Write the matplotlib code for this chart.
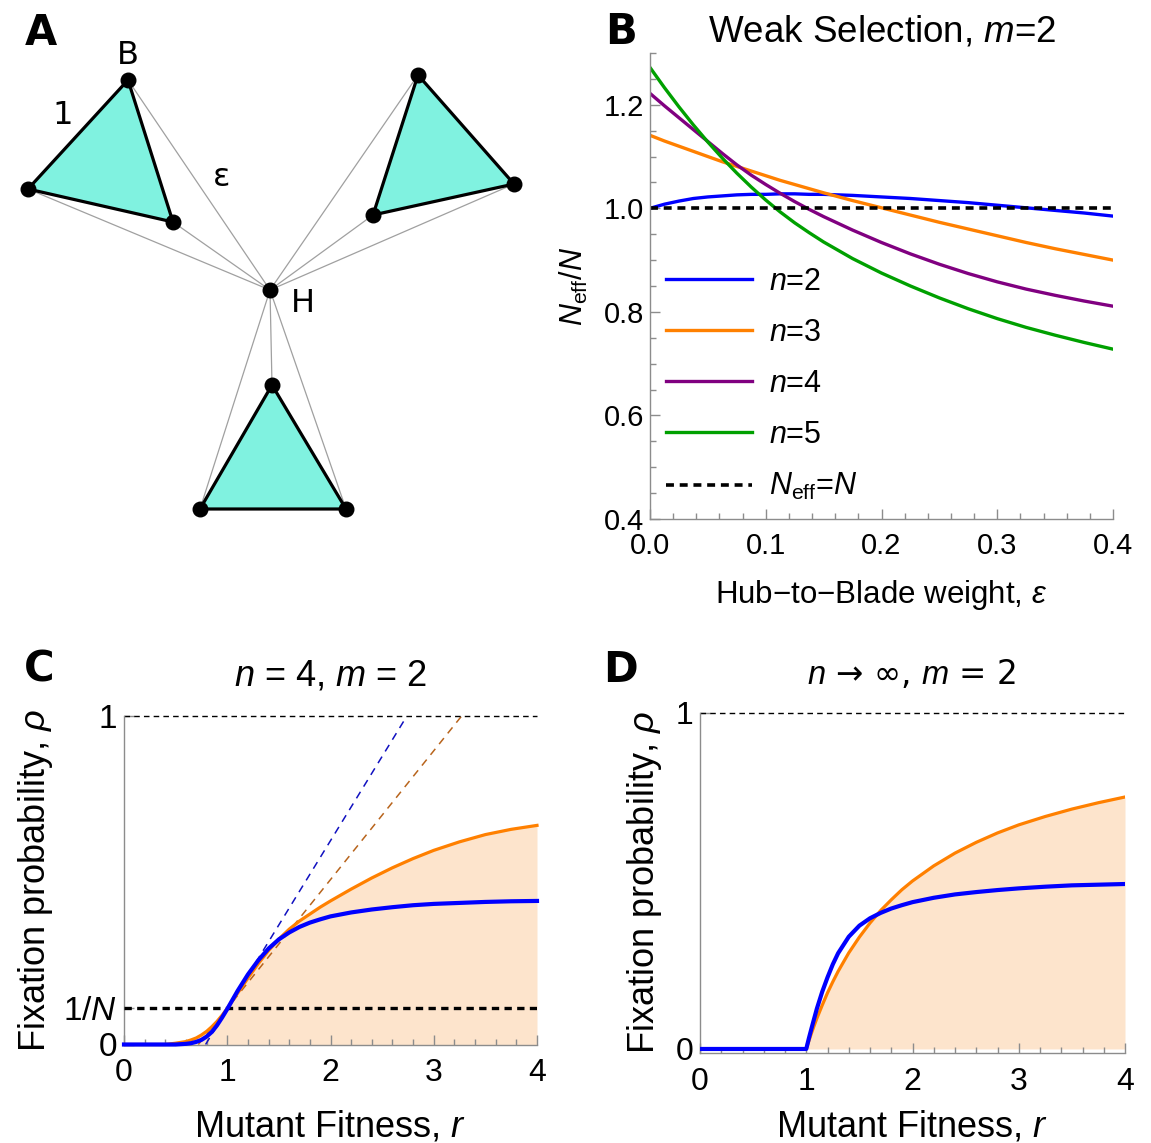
import matplotlib
matplotlib.use('Agg')
import matplotlib.pyplot as plt
from matplotlib.patches import Polygon
from matplotlib.ticker import MultipleLocator

plt.rcParams.update({
    'font.family': ['Liberation Sans', 'DejaVu Sans'],
    'mathtext.fontset': 'custom',
    'mathtext.rm': 'Liberation Sans',
    'mathtext.it': 'Liberation Sans:italic',
    'mathtext.bf': 'Liberation Sans:bold',
    'mathtext.fallback': 'stixsans',
})

W, H = 1151, 1143

# ---- panel A: network (node positions in picture pixels) ----
hub = (270, 290)
blades = [
    [(128, 80), (28, 189), (173, 222)],
    [(418, 75), (514, 184), (373, 215)],
    [(272, 385), (200, 509), (346, 509)],
]

# ---- panel B: N_eff/N vs hub-to-blade weight ----
eps = [0, 0.0125, 0.025, 0.0375, 0.05, 0.0625, 0.075, 0.0875, 0.1, 0.1125,
       0.125, 0.1375, 0.15, 0.175, 0.2, 0.225, 0.25, 0.275, 0.3, 0.325,
       0.35, 0.375, 0.4]
neff_n2 = [1.000, 1.008, 1.014, 1.019, 1.022, 1.024, 1.026, 1.027, 1.027, 1.028,
           1.028, 1.027, 1.027, 1.025, 1.022, 1.019, 1.015, 1.011, 1.006, 1.001,
           0.996, 0.991, 0.985]
neff_n3 = [1.141, 1.130, 1.120, 1.110, 1.100, 1.090, 1.081, 1.072, 1.063, 1.054,
           1.046, 1.038, 1.030, 1.015, 1.001, 0.987, 0.973, 0.960, 0.947, 0.934,
           0.922, 0.911, 0.900]
neff_n4 = [1.222, 1.198, 1.175, 1.152, 1.129, 1.106, 1.084, 1.064, 1.046, 1.029,
           1.013, 0.998, 0.984, 0.958, 0.934, 0.912, 0.892, 0.874, 0.858, 0.844,
           0.832, 0.821, 0.811]
neff_n5 = [1.272, 1.233, 1.196, 1.161, 1.128, 1.097, 1.068, 1.041, 1.016, 0.993,
           0.972, 0.953, 0.935, 0.903, 0.875, 0.850, 0.827, 0.806, 0.787, 0.770,
           0.755, 0.741, 0.728]
b_series = [('$n$=2', neff_n2, '#0000ff'), ('$n$=3', neff_n3, '#ff8000'),
            ('$n$=4', neff_n4, '#800080'), ('$n$=5', neff_n5, '#00a000')]

# ---- panel C: n=4, m=2 ----
r_c = [0, 0.4, 0.5, 0.6, 0.65, 0.7, 0.75, 0.8, 0.85, 0.9, 0.95, 1.0, 1.1, 1.2,
       1.3, 1.4, 1.5, 1.6, 1.7, 1.8, 1.9, 2.0, 2.2, 2.4, 2.6, 2.8, 3.0, 3.25,
       3.5, 3.75, 4.0]
rho_c_orange = [0, 0.000, 0.004, 0.009, 0.014, 0.020, 0.029, 0.040, 0.054, 0.070,
                0.089, 0.110, 0.156, 0.202, 0.246, 0.286, 0.321, 0.351, 0.376, 0.397,
                0.418, 0.437, 0.473, 0.507, 0.538, 0.566, 0.591, 0.617, 0.639, 0.655,
                0.667]
rho_c_blue = [0, 0.000, 0.000, 0.002, 0.004, 0.008, 0.014, 0.024, 0.038, 0.058,
              0.082, 0.108, 0.163, 0.213, 0.256, 0.292, 0.320, 0.341, 0.358, 0.371,
              0.381, 0.390, 0.402, 0.411, 0.418, 0.424, 0.428, 0.431, 0.434, 0.436,
              0.437]
tan_blue_r = [0.79, 2.74]
tan_orange_r = [0.72, 3.27]
tan_rho = [0, 1]
inv_N = 1 / 9

# ---- panel D: n -> inf, m=2 ----
r_d = [0, 1.0, 1.025, 1.05, 1.075, 1.1, 1.15, 1.2, 1.25, 1.3, 1.4, 1.5, 1.6,
       1.7, 1.8, 1.9, 2.0, 2.2, 2.4, 2.6, 2.8, 3.0, 3.25, 3.5, 3.75, 4.0]
rho_d_orange = [0, 0, 0.024, 0.048, 0.070, 0.091, 0.130, 0.167, 0.200, 0.231,
                0.286, 0.333, 0.375, 0.412, 0.444, 0.474, 0.500, 0.545, 0.583,
                0.615, 0.643, 0.667, 0.692, 0.714, 0.733, 0.750]
rho_d_blue = [0, 0, 0.032, 0.062, 0.091, 0.120, 0.170, 0.213, 0.252, 0.285,
              0.334, 0.367, 0.389, 0.405, 0.418, 0.428, 0.437, 0.450, 0.460,
              0.467, 0.473, 0.478, 0.483, 0.487, 0.489, 0.491]

FILL = '#fde4cc'
ORANGE = '#ff8000'
BLUE = '#0000ff'
GRAY = '#8c8c8c'


def rect(x0, y0, x1, y1):
    # pixel box (top-left origin) -> figure fraction
    return [x0 / W, 1 - y1 / H, (x1 - x0) / W, (y1 - y0) / H]


def style_axes(ax, xsize, ysize, xpad, ypad):
    for s in ['top', 'right']:
        ax.spines[s].set_visible(False)
    for s in ['left', 'bottom']:
        ax.spines[s].set_color(GRAY)
        ax.spines[s].set_linewidth(1.0)
    ax.tick_params(which='both', direction='in', color=GRAY, width=1.0)
    ax.tick_params(which='major', length=7)
    ax.tick_params(which='minor', length=4)
    ax.tick_params(axis='x', pad=xpad, labelsize=xsize)
    ax.tick_params(axis='y', pad=ypad, labelsize=ysize)


fig = plt.figure(figsize=(W / 100, H / 100), dpi=100)

# ===== A =====
axA = fig.add_axes([0, 1 - 540 / H, 560 / W, 540 / H])
axA.set_xlim(0, 560)
axA.set_ylim(540, 0)
axA.axis('off')
for tri in blades:
    for p in tri:
        axA.plot([hub[0], p[0]], [hub[1], p[1]], color='#a0a0a0', lw=0.9, zorder=1)
for tri in blades:
    axA.add_patch(Polygon(tri, closed=True, facecolor='#80f2e0',
                          edgecolor='black', lw=2.3, zorder=2))
allx = [p[0] for tri in blades for p in tri] + [hub[0]]
ally = [p[1] for tri in blades for p in tri] + [hub[1]]
axA.scatter(allx, ally, s=110, color='black', zorder=3)
for txt, x, y in [('B', 128, 55), ('1', 63, 116), ('ε', 222, 177), ('H', 303, 303)]:
    axA.text(x, y, txt, fontsize=23, family='DejaVu Sans', ha='center', va='center')

# ===== B =====
axB = fig.add_axes(rect(650, 53, 1113, 519))
for lab, vals, col in b_series:
    axB.plot(eps, vals, color=col, lw=2.4, label=lab)
axB.axhline(1.0, color='black', lw=2.6, ls=(0, (2.2, 1.6)), label='$N_{\\rm eff}$=$N$')
axB.set_xlim(0, 0.4)
axB.set_ylim(0.4, 1.3)
axB.set_xticks([0, 0.1, 0.2, 0.3, 0.4])
axB.set_xticklabels(['0.0', '0.1', '0.2', '0.3', '0.4'])
axB.set_yticks([0.4, 0.6, 0.8, 1.0, 1.2])
axB.set_yticklabels(['0.4', '0.6', '0.8', '1.0', '1.2'])
axB.xaxis.set_minor_locator(MultipleLocator(0.02))
axB.yaxis.set_minor_locator(MultipleLocator(0.05))
style_axes(axB, 21, 21, 9, 4)
axB.set_xlabel('Hub\u2212to\u2212Blade weight, $\\epsilon$', fontsize=22.5, labelpad=13)
axB.set_ylabel('$N_{\\rm eff}/N$', fontsize=22, labelpad=10)
axB.legend(loc='upper left', bbox_to_anchor=(0.035, 0.541), frameon=False,
           fontsize=22, handlelength=2.8, handletextpad=0.55, labelspacing=0.69,
           borderpad=0, borderaxespad=0)
fig.text(882 / W, 1 - 42 / H, 'Weak Selection, $m$=2', fontsize=26.5,
         ha='center', va='baseline')

# ===== C =====
axC = fig.add_axes(rect(124, 716, 537, 1044.5))
axC.fill_between(r_c, 0, rho_c_orange, color=FILL, lw=0, zorder=1)
axC.plot(tan_blue_r, tan_rho, color='#1010c0', lw=1.1, ls=(0, (5, 4)), zorder=2)
axC.plot(tan_orange_r, tan_rho, color='#b8641c', lw=1.1, ls=(0, (5, 4)), zorder=2)
axC.axhline(1.0, color='black', lw=1.0, ls=(0, (4, 3)), clip_on=False, zorder=2)
axC.axhline(inv_N, color='black', lw=2.4, ls=(0, (2.2, 1.6)), zorder=3)
axC.plot(r_c, rho_c_orange, color=ORANGE, lw=2.3, clip_on=False, zorder=4)
axC.plot(r_c, rho_c_blue, color=BLUE, lw=3.0, clip_on=False, zorder=5)
axC.set_xlim(0, 4)
axC.set_ylim(0, 1)
axC.set_xticks([0, 1, 2, 3, 4])
axC.xaxis.set_minor_locator(MultipleLocator(0.2))
axC.set_yticks([0, inv_N, 1])
axC.set_yticklabels(['0', '1/$N$', '1'])
style_axes(axC, 23, 24, 10, 5)
axC.set_xlabel('Mutant Fitness, $r$', fontsize=26, labelpad=15)
axC.set_ylabel('Fixation probability, $\\rho$', fontsize=26, labelpad=6)
fig.text(331 / W, 1 - 685 / H, '$n$ = 4, $m$ = 2', fontsize=26,
         ha='center', va='baseline')

# ===== D =====
axD = fig.add_axes(rect(700, 713, 1125, 1053))
axD.fill_between(r_d, 0, rho_d_orange, color=FILL, lw=0, zorder=1)
axD.axhline(1.0, color='black', lw=1.0, ls=(0, (4, 3)), clip_on=False, zorder=2)
axD.plot(r_d, rho_d_orange, color=ORANGE, lw=2.3, zorder=4)
axD.plot(r_d, rho_d_blue, color=BLUE, lw=3.0, zorder=5)
axD.set_xlim(0, 4)
axD.set_ylim(-0.012, 1)
axD.set_xticks([0, 1, 2, 3, 4])
axD.xaxis.set_minor_locator(MultipleLocator(0.2))
axD.set_yticks([0, 1])
style_axes(axD, 23, 23, 10, 5)
axD.set_xlabel('Mutant Fitness, $r$', fontsize=26, labelpad=9)
axD.set_ylabel('Fixation probability, $\\rho$', fontsize=26, labelpad=8)
fig.text(911 / W, 1 - 684 / H, '$n$ \u2192 \u221e, $m$ = 2', fontsize=23.5,
         ha='center', va='baseline', family=['DejaVu Sans'],
         math_fontfamily='custom')

# panel letters
for letter, x, y in [('A', 41, 45), ('B', 621, 44), ('C', 39, 682), ('D', 620, 682)]:
    fig.text(x / W, 1 - y / H, letter, fontsize=30, fontweight='bold',
             family='DejaVu Sans', ha='center', va='baseline')

fig.savefig('out.png', dpi=100)
